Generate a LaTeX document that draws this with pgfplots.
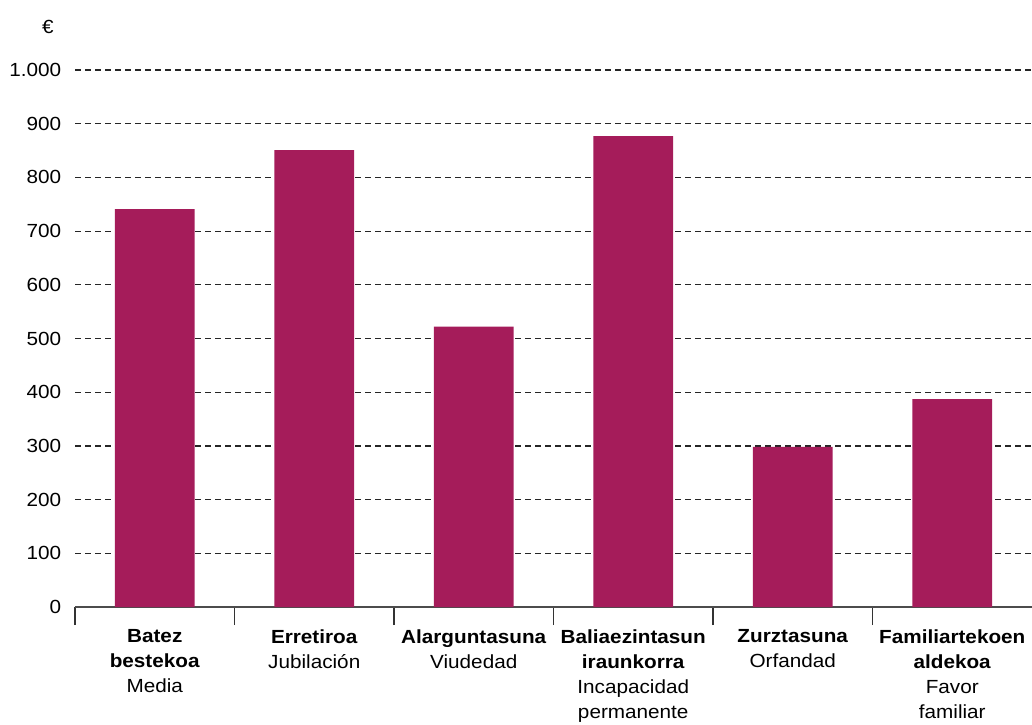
\documentclass[border=0pt]{standalone}
\usepackage{pgfplots}
\pgfplotsset{compat=1.18}
\usepackage{fontspec}
\setmainfont{Liberation Sans}[FakeStretch=1.09]
\definecolor{barc}{RGB}{165,28,90}
\begin{document}
\begin{tikzpicture}[x=1pt,y=1pt]
\useasboundingbox (0,0) rectangle (1032,724);
\begin{axis}[
  at={(75pt,117pt)}, anchor=south west,
  scale only axis, width=957pt, height=537pt,
  xmin=-0.5, xmax=5.5, ymin=0, ymax=1000,
  axis x line*=bottom, axis y line*=left,
  y axis line style={draw=none},
  x axis line style={black!70, line width=1.2pt},
  ytick={0,100,...,1000},
  ymajorgrids,
  grid style={dash pattern=on 6pt off 4pt, black!85, line width=1.2pt},
  ytick style={draw=none},
  font=\fontsize{19}{25}\selectfont,
  /pgf/number format/.cd, 1000 sep={.}, assume math mode=true, /pgfplots/.cd,
  yticklabel style={xshift=-6pt},
  xtick={0,1,2,3,4,5},
  major x tick style={draw=none},
  minor xtick={-0.5,0.5,1.5,2.5,3.5,4.5},
  minor x tick style={black!80, line width=1.2pt},
  minor tick length=18pt,
  tick align=outside,
  xticklabels={
    {\textbf{Batez}\\\textbf{bestekoa}\\Media},
    {\textbf{Erretiroa}\\Jubilación},
    {\textbf{Alarguntasuna}\\Viudedad},
    {\textbf{Baliaezintasun}\\\textbf{iraunkorra}\\Incapacidad\\permanente},
    {\textbf{Zurztasuna}\\Orfandad},
    {\textbf{Familiartekoen}\\\textbf{aldekoa}\\Favor\\familiar}},
  xticklabel style={align=center, anchor=north, yshift=-15pt},
  ybar, bar width=0.5,
]
\addplot[fill=barc, draw=none] coordinates {(0,741) (1,851) (2,522) (3,877) (4,298) (5,387)};
\end{axis}
\node[font=\fontsize{19}{25}\selectfont] at (48,697) {€};
\end{tikzpicture}
\end{document}
